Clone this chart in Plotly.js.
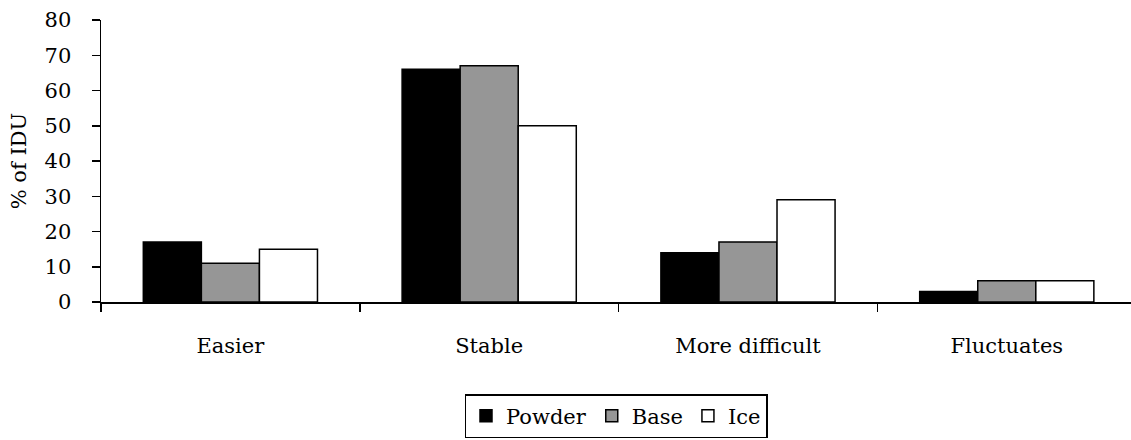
<!DOCTYPE html>
<html>
<head>
<meta charset="utf-8">
<script src="https://cdn.plot.ly/plotly-3.0.1.min.js"></script>
<style>html,body{margin:0;padding:0;background:#fff;}#chart{width:1131px;height:440px;}</style>
</head>
<body>
<div id="chart"></div>
<script>
const categories = ["Easier", "Stable", "More difficult", "Fluctuates"];
const powder = [17, 66, 14, 3];
const base = [11, 67, 17, 6];
const ice = [15, 50, 29, 6];
const yTicks = [0, 10, 20, 30, 40, 50, 60, 70, 80];

const FONT = "DejaVu Serif";
const FS = 21;
const lineStyle = {color: "#000", width: 1.5};

const traces = [
  {type: "bar", name: "Powder", x: categories, y: powder, marker: {color: "#000000", line: lineStyle}},
  {type: "bar", name: "Base", x: categories, y: base, marker: {color: "#969696", line: lineStyle}},
  {type: "bar", name: "Ice", x: categories, y: ice, marker: {color: "#ffffff", line: lineStyle}}
];

const layout = {
  width: 1131, height: 440,
  margin: {l: 101, r: 0, t: 19.5, b: 137.5, pad: 0},
  paper_bgcolor: "#fff", plot_bgcolor: "#fff",
  font: {family: FONT, size: FS, color: "#000"},
  barmode: "group", bargap: 0.327, bargroupgap: 0,
  showlegend: true,
  hovermode: false,
  xaxis: {
    type: "category", range: [-0.5, 3.48],
    showline: true, linecolor: "#000", linewidth: 1.5,
    ticks: "outside", tickson: "boundaries", ticklen: 8, tickwidth: 1.5, tickcolor: "#000",
    showgrid: false, zeroline: false,
    tickfont: {family: FONT, size: FS, color: "#000"},
    ticklabelstandoff: 24
  },
  yaxis: {
    range: [0, 80], tickvals: yTicks, ticktext: yTicks.map(String),
    showline: true, linecolor: "#000", linewidth: 1.5,
    ticks: "outside", ticklen: 8, tickwidth: 1.5, tickcolor: "#000",
    showgrid: false, zeroline: false,
    tickfont: {family: FONT, size: FS, color: "#000"},
    ticklabelstandoff: 16,
    title: {text: "% of IDU", font: {family: FONT, size: FS, color: "#000"}, standoff: 12}
  },
  legend: {
    orientation: "h", x: 0.5, xanchor: "center", y: -0.327, yanchor: "top",
    bordercolor: "#000", borderwidth: 1.5, bgcolor: "#fff",
    font: {family: FONT, size: FS, color: "#000"},
    traceorder: "normal"
  }
};

Plotly.newPlot("chart", traces, layout, {staticPlot: true, displayModeBar: false});
</script>
</body>
</html>
